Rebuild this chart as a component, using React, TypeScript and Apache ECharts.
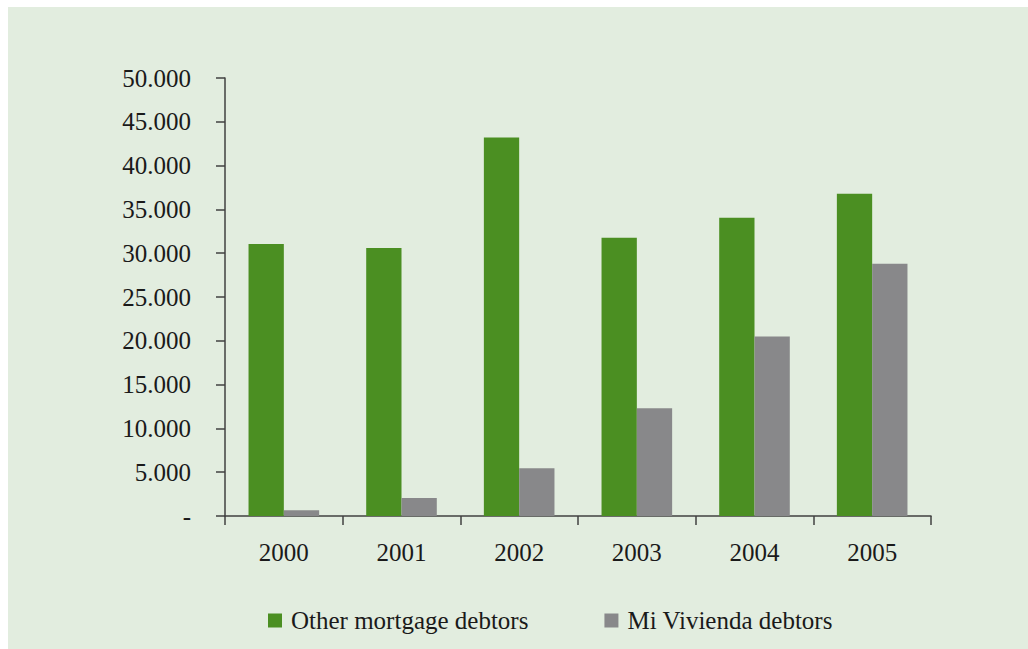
import React, { useEffect, useRef } from "react";
import * as echarts from "echarts";

const years = ["2000", "2001", "2002", "2003", "2004", "2005"];
const otherMortgage = [31050, 30600, 43200, 31750, 34050, 36800];
const miVivienda = [650, 2050, 5450, 12300, 20500, 28800];
const yTickLabels = ["-", "5.000", "10.000", "15.000", "20.000", "25.000", "30.000", "35.000", "40.000", "45.000", "50.000"];
const seriesNames = ["Other mortgage debtors", "Mi Vivienda debtors"];

const FONT = "Liberation Serif";

export default function App() {
  const ref = useRef<HTMLDivElement>(null);
  useEffect(() => {
    if (!ref.current) return;
    const chart = echarts.init(ref.current, null, { renderer: "svg" });
    chart.setOption({
      animation: false,
      backgroundColor: "#e2eddf",
      textStyle: { fontFamily: FONT },
      grid: { left: 217, right: 97, top: 71, bottom: 133 },
      legend: {
        left: 255,
        top: 596,
        itemWidth: 14,
        itemHeight: 14,
        itemGap: 76,
        icon: "rect",
        textStyle: { fontFamily: FONT, fontSize: 25, color: "#1a1a1a", padding: [0, 0, 0, 4] },
        data: seriesNames,
      },
      xAxis: {
        type: "category",
        data: years,
        axisLine: { lineStyle: { color: "#404040", width: 1.5 } },
        axisTick: { show: true, length: 9, lineStyle: { color: "#404040", width: 1.5 } },
        axisLabel: { fontFamily: FONT, fontSize: 25, color: "#1a1a1a", margin: 24 },
      },
      yAxis: {
        type: "value",
        min: 0,
        max: 50000,
        interval: 5000,
        splitLine: { show: false },
        axisLine: { show: true, lineStyle: { color: "#404040", width: 1.5 } },
        axisTick: { show: true, length: 9, lineStyle: { color: "#404040", width: 1.5 } },
        axisLabel: {
          fontFamily: FONT,
          fontSize: 25,
          color: "#1a1a1a",
          margin: 34,
          formatter: (v: number) => yTickLabels[Math.round(v / 5000)] ?? "",
        },
      },
      series: [
        {
          name: seriesNames[0],
          type: "bar",
          data: otherMortgage,
          barWidth: "30%",
          barGap: "0%",
          itemStyle: { color: "#4b8f22" },
        },
        {
          name: seriesNames[1],
          type: "bar",
          data: miVivienda,
          barWidth: "30%",
          barGap: "0%",
          itemStyle: { color: "#88888a" },
        },
      ],
    });
    return () => chart.dispose();
  }, []);
  return <div ref={ref} style={{ position: "absolute", left: 8, top: 7, width: 1020, height: 642 }} />;
}
